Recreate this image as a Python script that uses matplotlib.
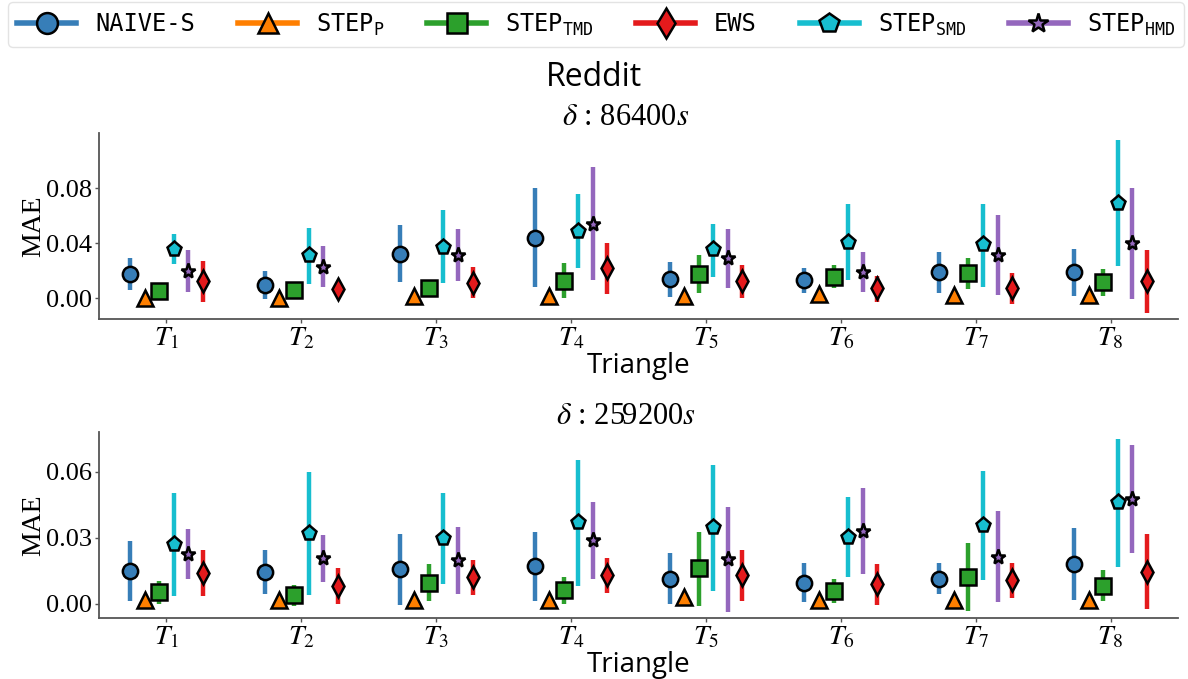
import numpy as np
import matplotlib
matplotlib.use('Agg')
import matplotlib.pyplot as plt
from matplotlib.lines import Line2D
from matplotlib.font_manager import FontProperties

plt.rcParams['mathtext.fontset'] = 'stix'
plt.rcParams['font.family'] = ['Liberation Serif', 'DejaVu Serif']

# x categories
triangles = ['$T_1$', '$T_2$', '$T_3$', '$T_4$', '$T_5$', '$T_6$', '$T_7$', '$T_8$']

# delta = 86400s : mean MAE and confidence interval per method
naive_86400 = [0.0179, 0.0095, 0.0325, 0.0441, 0.0138, 0.0133, 0.0189, 0.0189]
naive_86400_lo = [0.0063, -0.0007, 0.0116, 0.0085, 0.0012, 0.0036, 0.0041, 0.0017]
naive_86400_hi = [0.0296, 0.0201, 0.0533, 0.0800, 0.0267, 0.0223, 0.0335, 0.0361]

stepp_86400 = [0.0004, 0.0002, 0.0015, 0.0016, 0.0018, 0.0029, 0.0024, 0.0022]
stepp_86400_lo = [0.0001, 0.0000, 0.0011, 0.0012, 0.0014, 0.0024, 0.0020, 0.0018]
stepp_86400_hi = [0.0008, 0.0005, 0.0019, 0.0021, 0.0022, 0.0034, 0.0029, 0.0026]

tmd_86400 = [0.0056, 0.0063, 0.0078, 0.0128, 0.0175, 0.0158, 0.0182, 0.0116]
tmd_86400_lo = [0.0025, 0.0030, 0.0040, 0.0000, 0.0036, 0.0073, 0.0065, 0.0017]
tmd_86400_hi = [0.0090, 0.0095, 0.0115, 0.0257, 0.0318, 0.0242, 0.0296, 0.0211]

smd_86400 = [0.0359, 0.0315, 0.0373, 0.0490, 0.0356, 0.0412, 0.0393, 0.0696]
smd_86400_lo = [0.0247, 0.0102, 0.0109, 0.0218, 0.0158, 0.0131, 0.0085, 0.0235]
smd_86400_hi = [0.0468, 0.0511, 0.0642, 0.0756, 0.0543, 0.0684, 0.0686, 0.1151]

hmd_86400 = [0.0199, 0.0230, 0.0315, 0.0543, 0.0291, 0.0194, 0.0315, 0.0400]
hmd_86400_lo = [0.0048, 0.0082, 0.0128, 0.0133, 0.0073, 0.0044, 0.0024, -0.0002]
hmd_86400_hi = [0.0351, 0.0381, 0.0502, 0.0953, 0.0502, 0.0339, 0.0606, 0.0802]

ews_86400 = [0.0126, 0.0065, 0.0114, 0.0218, 0.0126, 0.0073, 0.0073, 0.0126]
ews_86400_lo = [-0.0024, 0.0010, 0.0000, 0.0029, 0.0005, -0.0024, -0.0041, -0.0109]
ews_86400_hi = [0.0271, 0.0120, 0.0225, 0.0405, 0.0242, 0.0165, 0.0182, 0.0349]

# delta = 259200s
naive_259200 = [0.0151, 0.0147, 0.0157, 0.0174, 0.0115, 0.0097, 0.0115, 0.0183]
naive_259200_lo = [0.0014, 0.0047, -0.0005, 0.0015, 0.0000, 0.0008, 0.0044, 0.0018]
naive_259200_hi = [0.0287, 0.0243, 0.0316, 0.0325, 0.0230, 0.0186, 0.0184, 0.0345]

stepp_259200 = [0.0016, 0.0017, 0.0016, 0.0017, 0.0031, 0.0016, 0.0020, 0.0019]
stepp_259200_lo = [0.0011, 0.0012, 0.0011, 0.0012, 0.0026, 0.0011, 0.0015, 0.0014]
stepp_259200_hi = [0.0021, 0.0022, 0.0021, 0.0022, 0.0036, 0.0021, 0.0025, 0.0024]

tmd_259200 = [0.0053, 0.0039, 0.0097, 0.0063, 0.0162, 0.0060, 0.0121, 0.0083]
tmd_259200_lo = [0.0000, -0.0009, 0.0014, 0.0000, -0.0008, 0.0006, -0.0032, 0.0014]
tmd_259200_hi = [0.0103, 0.0086, 0.0180, 0.0124, 0.0325, 0.0113, 0.0275, 0.0154]

smd_259200 = [0.0272, 0.0323, 0.0301, 0.0370, 0.0348, 0.0305, 0.0358, 0.0461]
smd_259200_lo = [0.0036, 0.0039, 0.0089, 0.0082, 0.0060, 0.0121, 0.0107, 0.0169]
smd_259200_hi = [0.0502, 0.0600, 0.0505, 0.0653, 0.0630, 0.0485, 0.0603, 0.0748]

hmd_259200 = [0.0225, 0.0207, 0.0199, 0.0290, 0.0202, 0.0331, 0.0215, 0.0476]
hmd_259200_lo = [0.0112, 0.0098, 0.0044, 0.0113, -0.0038, 0.0137, 0.0011, 0.0230]
hmd_259200_hi = [0.0338, 0.0313, 0.0348, 0.0464, 0.0440, 0.0524, 0.0422, 0.0721]

ews_259200 = [0.0142, 0.0083, 0.0124, 0.0131, 0.0131, 0.0089, 0.0109, 0.0147]
ews_259200_lo = [0.0036, -0.0002, 0.0041, 0.0051, 0.0015, -0.0005, 0.0029, -0.0024]
ews_259200_hi = [0.0246, 0.0162, 0.0200, 0.0207, 0.0245, 0.0181, 0.0184, 0.0317]

# method styles, in the order they sit inside each triangle group
styles = [
    ('NAIVE-S', '#377eb8', 'o'),
    (r'STEP$_\mathtt{P}$', '#ff7f00', '^'),
    (r'STEP$_\mathtt{TMD}$', '#2ca02c', 's'),
    (r'STEP$_\mathtt{SMD}$', '#17becf', 'p'),
    (r'STEP$_\mathtt{HMD}$', '#9467bd', '*'),
    ('EWS', '#e41a1c', 'd'),
]
legend_order = [0, 1, 2, 5, 3, 4]

panels = [
    (r'$\delta$ : 86400$s$',
     [(naive_86400, naive_86400_lo, naive_86400_hi),
      (stepp_86400, stepp_86400_lo, stepp_86400_hi),
      (tmd_86400, tmd_86400_lo, tmd_86400_hi),
      (smd_86400, smd_86400_lo, smd_86400_hi),
      (hmd_86400, hmd_86400_lo, hmd_86400_hi),
      (ews_86400, ews_86400_lo, ews_86400_hi)],
     [0, 0.04, 0.08], (-0.0153, 0.120)),
    (r'$\delta$ : 259200$s$',
     [(naive_259200, naive_259200_lo, naive_259200_hi),
      (stepp_259200, stepp_259200_lo, stepp_259200_hi),
      (tmd_259200, tmd_259200_lo, tmd_259200_hi),
      (smd_259200, smd_259200_lo, smd_259200_hi),
      (hmd_259200, hmd_259200_lo, hmd_259200_hi),
      (ews_259200, ews_259200_lo, ews_259200_hi)],
     [0, 0.03, 0.06], (-0.0065, 0.078)),
]

fig = plt.figure(figsize=(11.88, 6.79), dpi=100)
ax_top = fig.add_axes([0.0833, 0.5297, 0.9083, 0.2739])
ax_bot = fig.add_axes([0.0833, 0.0894, 0.9083, 0.2744])

x = np.arange(len(triangles))
offsets = (np.arange(6) - 2.5) * 0.108

for ax, (title, series, yticks, ylim) in zip([ax_top, ax_bot], panels):
    for k, ((name, color, marker), (mean, lo, hi)) in enumerate(zip(styles, series)):
        xs = x + offsets[k]
        ax.vlines(xs, lo, hi, color=color, lw=3.2, zorder=2)
        ax.plot(xs, mean, ls='none', marker=marker, ms=11, mfc=color,
                mec='black', mew=1.8, zorder=3)
    ax.set_xlim(-0.5, 7.5)
    ax.set_ylim(*ylim)
    ax.set_xticks(x)
    ax.set_xticklabels(triangles, fontsize=20)
    ax.set_yticks(yticks)
    ax.set_yticklabels(['%.2f' % t for t in yticks], fontsize=19)
    ax.set_ylabel('MAE', fontsize=20, labelpad=0)
    ax.set_xlabel('Triangle', fontsize=20, family='Open Sans', labelpad=0)
    ax.set_title(title, fontsize=22, pad=6, x=0.488)
    for s in ['top', 'right']:
        ax.spines[s].set_visible(False)
    for s in ['left', 'bottom']:
        ax.spines[s].set_color('#555555')
        ax.spines[s].set_linewidth(1.3)
    ax.tick_params(length=3, width=1, color='#555555', pad=2)

fig.text(0.5, 1 - 78 / 679, 'Reddit', ha='center', va='center',
         fontsize=23, family='Open Sans')

handles = []
labels = []
for i in legend_order:
    name, color, marker = styles[i]
    handles.append(Line2D([0], [0], color=color, lw=4, marker=marker, ms=15,
                          mfc=color, mec='black', mew=1.8))
    labels.append(name)

prop = FontProperties(family='DejaVu Sans Mono', size=17, math_fontfamily='dejavusans')
fig.legend(handles, labels, loc='lower left', ncol=6, mode='expand',
           bbox_to_anchor=(8 / 1188, 1 - 47 / 679, 1176 / 1188, 44 / 679),
           prop=prop, handlelength=2.5, frameon=True, borderaxespad=0,
           edgecolor='#dddddd', fancybox=True)

fig.savefig('out.png', dpi=100)
